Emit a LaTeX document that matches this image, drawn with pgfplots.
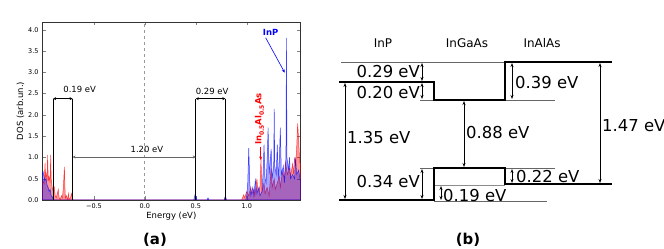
\documentclass[border=0pt]{standalone}
\usepackage{pgfplots}
\pgfplotsset{compat=1.18}
\usepackage{fontspec}
\setmainfont{DejaVu Sans}
\usetikzlibrary{arrows.meta}
\newcommand{\sub}[1]{\raisebox{-0.3em}{\fontsize{6}{6}\selectfont #1}}
\begin{document}
\begin{tikzpicture}
\useasboundingbox (0,0) rectangle (664bp,249bp);
% ---------- panel (b) ----------
\begin{axis}[at={(0,0)}, anchor=south west, scale only axis,
  width=664bp, height=249bp, xmin=0, xmax=664, ymin=0, ymax=249,
  y dir=reverse, hide axis, clip=false]
  % thin reference lines
  \addplot[black!60, line width=0.8bp] coordinates {(341,62) (505,62)};
  \addplot[black!60, line width=0.8bp] coordinates {(420,100) (434,100)};
  \addplot[black!60, line width=0.8bp] coordinates {(505,100) (555,100)};
  \addplot[black!60, line width=0.8bp] coordinates {(420,168) (434,168)};
  \addplot[black!60, line width=0.8bp] coordinates {(505,168) (555,168)};
  \addplot[black!45, line width=0.8bp] coordinates {(434,185) (505,185)};
  \addplot[black!60, line width=0.8bp] coordinates {(434,201) (547,201)};
  % band edges
  \addplot[black, line width=2.8bp] coordinates {(339,82) (434,82) (434,100) (505,100) (505,62) (612,62)};
  \addplot[black, line width=2.8bp] coordinates {(339,200) (434,200) (434,168) (505,168) (505,184) (612,184)};
  % arrows
  \addplot[black, line width=0.7bp, {Stealth[length=4bp,width=3bp]}-{Stealth[length=4bp,width=3bp]}] coordinates {(422,63) (422,81)};
  \addplot[black, line width=0.7bp, {Stealth[length=4bp,width=3bp]}-{Stealth[length=4bp,width=3bp]}] coordinates {(422,83) (422,99)};
  \addplot[black, line width=0.7bp, {Stealth[length=4bp,width=3bp]}-{Stealth[length=4bp,width=3bp]}] coordinates {(422,169) (422,199)};
  \addplot[black, line width=0.7bp, {Stealth[length=4bp,width=3bp]}-{Stealth[length=4bp,width=3bp]}] coordinates {(441,186) (441,200)};
  \addplot[black, line width=0.7bp, {Stealth[length=4bp,width=3bp]}-{Stealth[length=4bp,width=3bp]}] coordinates {(512,63) (512,99)};
  \addplot[black, line width=0.7bp, {Stealth[length=4bp,width=3bp]}-{Stealth[length=4bp,width=3bp]}] coordinates {(512,169) (512,183)};
  \addplot[black, line width=0.7bp, {Stealth[length=4bp,width=3bp]}-{Stealth[length=4bp,width=3bp]}] coordinates {(345,83) (345,199)};
  \addplot[black, line width=0.7bp, {Stealth[length=4bp,width=3bp]}-{Stealth[length=4bp,width=3bp]}] coordinates {(464,101) (464,167)};
  \addplot[black, line width=0.7bp, {Stealth[length=4bp,width=3bp]}-{Stealth[length=4bp,width=3bp]}] coordinates {(600,63) (600,183)};
  % labels
  \node[font=\fontsize{12}{13}\selectfont] at (axis cs:383,43) {InP};
  \node[font=\fontsize{12}{13}\selectfont] at (axis cs:467,43) {InGaAs};
  \node[font=\fontsize{12}{13}\selectfont] at (axis cs:542,43) {InAlAs};
  \node[font=\fontsize{16.5}{17}\selectfont, anchor=east, inner sep=0] at (axis cs:420,72) {0.29 eV};
  \node[font=\fontsize{16.5}{17}\selectfont, anchor=east, inner sep=0] at (axis cs:420,93) {0.20 eV};
  \node[font=\fontsize{16.5}{17}\selectfont, anchor=east, inner sep=0] at (axis cs:420,182) {0.34 eV};
  \node[font=\fontsize{16.5}{17}\selectfont, anchor=west, inner sep=0] at (axis cs:347,138) {1.35 eV};
  \node[font=\fontsize{16.5}{17}\selectfont, anchor=west, inner sep=0] at (axis cs:466,133) {0.88 eV};
  \node[font=\fontsize{16.5}{17}\selectfont, anchor=west, inner sep=0] at (axis cs:515,83) {0.39 eV};
  \node[font=\fontsize{16.5}{17}\selectfont, anchor=west, inner sep=0] at (axis cs:516,177) {0.22 eV};
  \node[font=\fontsize{16.5}{17}\selectfont, anchor=west, inner sep=0] at (axis cs:443,196) {0.19 eV};
  \node[font=\fontsize{16.5}{17}\selectfont, anchor=west, inner sep=0] at (axis cs:602,126) {1.47 eV};
  \node[font=\bfseries\fontsize{15}{16}\selectfont, inner sep=0] at (axis cs:155,240) {(a)};
  \node[font=\bfseries\fontsize{15}{16}\selectfont, inner sep=0] at (axis cs:468,240) {(b)};
\end{axis}
% ---------- panel (a) ----------
\begin{axis}[at={(42bp,49bp)}, anchor=south west, scale only axis,
  width=258.7bp, height=178bp,
  xmin=-1.01, xmax=1.53, ymin=0, ymax=4.18,
  xtick={-0.5,0,0.5,1.0}, xticklabels={−0.5,0.0,0.5,1.0},
  ytick={0,0.5,1,1.5,2,2.5,3,3.5,4},
  yticklabels={0.0,0.5,1.0,1.5,2.0,2.5,3.0,3.5,4.0},
  /pgf/number format/assume math mode=true,
  tick label style={font=\fontsize{6.5}{7}\selectfont},
  tick align=inside, major tick length=3.5bp,
  axis line style={black!80, line width=0.5bp},
  xlabel={Energy (eV)}, ylabel={DOS (arb.un.)},
  label style={font=\fontsize{8.5}{9}\selectfont},
  xlabel style={yshift=3bp}, ylabel style={yshift=-3bp},
  clip mode=individual]
  \addplot[black!40, dashed, line width=0.9bp] coordinates {(0,0) (0,4.18)};
  % InAlAs (red)
  \addplot[red, line width=0.5bp, fill=red, fill opacity=0.4, draw opacity=0.7] coordinates {
  (-1.01,0.35) (-1.0,0.45) (-0.99,0.38) (-0.985,0.6) (-0.98,0.87) (-0.975,0.5) (-0.97,0.62) (-0.96,0.45) (-0.955,1.06) (-0.95,0.6) (-0.945,0.45) (-0.94,0.55) (-0.93,0.4) (-0.925,1.06) (-0.92,0.5) (-0.91,0.3) (-0.9,0.2) (-0.89,0.3) (-0.88,0.1) (-0.87,0.05) (-0.86,0.15) (-0.85,0.25) (-0.845,0.1) (-0.84,0.05) (-0.83,0.0) (-0.82,0.1) (-0.81,0.05) (-0.80,0.3) (-0.79,0.78) (-0.785,0.3) (-0.78,0.05) (-0.77,0.1) (-0.76,0.0) (-0.75,0.15) (-0.745,0.02) (-0.73,0.05) (-0.72,0.15) (-0.71,0.02) (-0.70,0) (0.78,0) (0.79,0.08) (0.80,0) (0.95,0) (0.97,0.12) (0.98,0.05) (1.0,0.2) (1.02,0.1) (1.04,0.3) (1.05,0.15) (1.07,0.25) (1.08,0.1) (1.1,0.5) (1.11,0.2) (1.13,0.3) (1.14,1.0) (1.15,0.2) (1.17,0.4) (1.18,0.15) (1.2,0.3) (1.22,0.1) (1.24,0.75) (1.25,0.3) (1.27,0.5) (1.28,0.25) (1.3,0.4) (1.32,0.55) (1.33,0.3) (1.35,0.65) (1.37,0.5) (1.38,0.9) (1.4,0.6) (1.42,0.75) (1.43,0.55) (1.45,0.85) (1.46,0.6) (1.47,1.0) (1.48,0.8) (1.49,1.2) (1.5,1.8) (1.51,1.4) (1.52,0.9) (1.53,0.8)
  } \closedcycle;
  % InP (blue)
  \addplot[blue, line width=0.5bp, fill=blue, fill opacity=0.35, draw opacity=0.7] coordinates {
  (-1.01,0.6) (-1.0,0.67) (-0.99,0.55) (-0.98,0.45) (-0.97,0.5) (-0.96,0.35) (-0.95,0.3) (-0.94,0.2) (-0.93,0.25) (-0.92,0.1) (-0.91,0.08) (-0.9,0.03) (-0.89,0) (0.48,0) (0.495,0.15) (0.51,0) (0.61,0) (0.62,0.05) (0.63,0) (0.78,0) (0.79,0.1) (0.80,0) (0.99,0) (1.0,0.1) (1.01,0.4) (1.02,1.22) (1.03,0.4) (1.04,0.1) (1.06,0.3) (1.07,0.1) (1.085,0.47) (1.1,0.15) (1.12,0.3) (1.13,0.1) (1.15,0.2) (1.16,0.6) (1.17,1.3) (1.18,0.5) (1.19,0.4) (1.2,0.9) (1.21,1.7) (1.22,0.6) (1.24,1.2) (1.25,0.5) (1.265,0.8) (1.27,2.14) (1.275,0.8) (1.29,0.6) (1.3,1.3) (1.31,0.5) (1.32,0.9) (1.33,1.7) (1.34,0.6) (1.36,0.8) (1.37,0.4) (1.385,0.9) (1.39,3.81) (1.395,1.0) (1.41,0.7) (1.42,1.0) (1.43,0.5) (1.45,0.6) (1.47,0.5) (1.48,1.0) (1.49,0.6) (1.51,0.7) (1.53,0.4)
  } \closedcycle;
  % gap boxes
  \addplot[black, line width=0.8bp] coordinates {(-0.90,0) (-0.90,2.38)};
  \addplot[black, line width=0.8bp] coordinates {(-0.71,0) (-0.71,2.38)};
  \addplot[black, line width=0.8bp] coordinates {(0.50,0) (0.50,2.38)};
  \addplot[black, line width=0.8bp] coordinates {(0.79,0) (0.79,2.38)};
  \addplot[black, line width=0.7bp, {Stealth[length=3bp,width=3bp]}-{Stealth[length=3bp,width=3bp]}] coordinates {(-0.90,2.38) (-0.71,2.38)};
  \addplot[black, line width=0.7bp, {Stealth[length=3bp,width=3bp]}-{Stealth[length=3bp,width=3bp]}] coordinates {(0.50,2.38) (0.79,2.38)};
  \addplot[black!60, line width=0.8bp, {Stealth[length=3bp,width=3bp]}-{Stealth[length=3bp,width=3bp]}] coordinates {(-0.71,1.01) (0.50,1.01)};
  \node[font=\fontsize{8.5}{9}\selectfont] at (axis cs:-0.64,2.59) {0.19 eV};
  \node[font=\fontsize{8.5}{9}\selectfont] at (axis cs:0.66,2.56) {0.29 eV};
  \node[font=\fontsize{8.5}{9}\selectfont] at (axis cs:0.02,1.18) {1.20 eV};
  % annotations
  \node[text=blue, font=\bfseries\fontsize{8.5}{9}\selectfont] at (axis cs:1.235,3.93) {InP};
  \addplot[blue, line width=0.6bp, -{Stealth[length=3.5bp,width=3bp]}] coordinates {(1.186,3.81) (1.373,2.99)};
  \node[text=red, rotate=90, font=\bfseries\fontsize{8.5}{9}\selectfont] at (axis cs:1.125,1.9) {In\sub{0.5}Al\sub{0.5}As};
  \addplot[red, line width=0.6bp, -{Stealth[length=3.5bp,width=3bp]}] coordinates {(1.137,1.24) (1.137,0.94)};
\end{axis}
\end{tikzpicture}
\end{document}
